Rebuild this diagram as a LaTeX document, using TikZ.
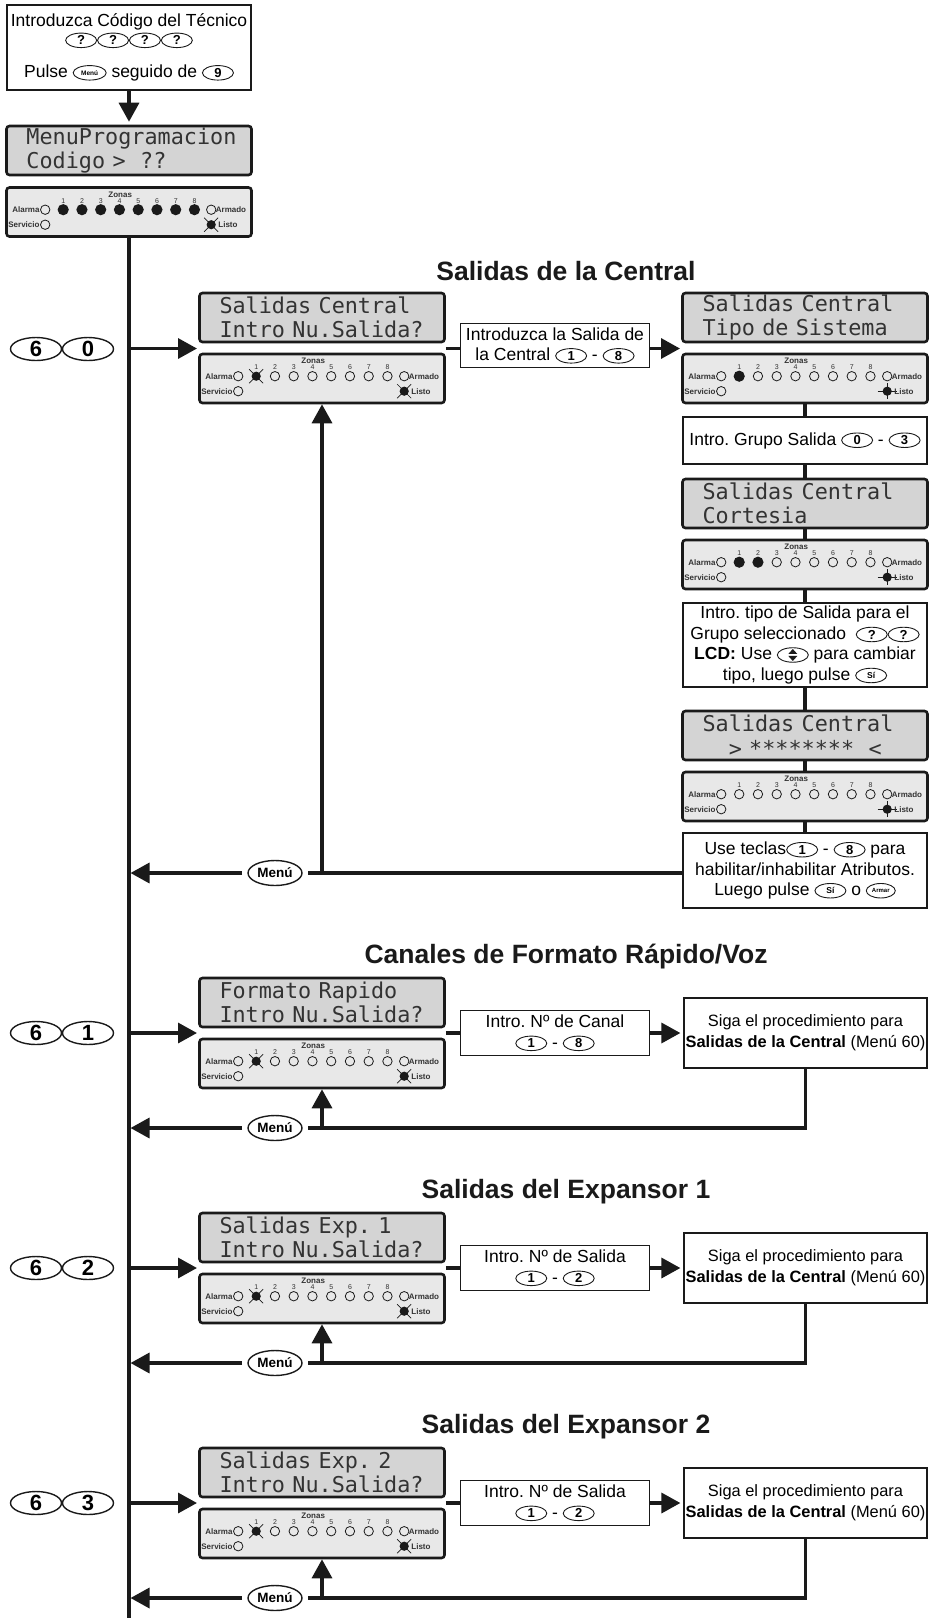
\documentclass[tikz,border=0pt]{standalone}
\usepackage{fontspec}
\setmainfont{Liberation Sans}
\newfontfamily\lcdfont[WordSpace={1,0,0}]{DejaVu Sans Mono}
\usetikzlibrary{shapes.geometric,arrows.meta,calc}

\definecolor{lcdfill}{HTML}{D4D4D4}
\definecolor{kpfill}{HTML}{E8E8E8}
\definecolor{ink}{HTML}{1A1A1A}
\definecolor{kptext}{HTML}{333333}

\tikzset{
  kkey/.style={draw=ink, ellipse, line width=0.9pt, inner sep=0pt, minimum width=31pt, minimum height=14.5pt, font=\fontsize{13}{13}\selectfont\bfseries},
  lcdbox/.style={draw=ink, line width=2.6pt, rounded corners=3pt, fill=lcdfill, minimum height=49pt, inner xsep=20pt, inner ysep=0pt, text width=205pt, align=left, font=\lcdfont\fontsize{21.8}{24.5}\selectfont\frenchspacing, text=kptext},
  kpbox/.style={draw=ink, line width=2.6pt, rounded corners=3pt, fill=kpfill, minimum width=245pt, minimum height=49pt, inner sep=0pt},
  kplab/.style={inner sep=0pt, text=kptext, font=\fontsize{8}{8}\selectfont\bfseries},
  kpnum/.style={inner sep=0pt, text=kptext, font=\fontsize{7}{7}\selectfont},
  txtbox/.style={draw=ink, line width=1.2pt, fill=white, align=center, inner sep=2pt, font=\fontsize{17.5}{20.5}\selectfont},
  sigabox/.style={txtbox, inner xsep=0.5pt, minimum width=243pt, minimum height=70pt, font=\fontsize{16.4}{21}\selectfont},
  title/.style={inner sep=0pt, text=ink, font=\fontsize{26.5}{30}\selectfont\bfseries},
  bigkey/.style={draw=ink, ellipse, line width=1.4pt, minimum width=51pt, minimum height=23pt, inner sep=0pt, font=\fontsize{22}{22}\selectfont\bfseries},
  menukey/.style={draw=ink, ellipse, line width=1.4pt, minimum width=54pt, minimum height=25pt, inner sep=0pt, outer xsep=6pt, font=\fontsize{13.5}{13.5}\selectfont\bfseries},
  line/.style={draw=ink, line width=3.4pt},
  arr/.style={line, -{Triangle[length=19pt,width=20pt]}}
}

\newcommand\keyi[2][]{\tikz[baseline={([yshift=-4.8pt]kq.center)}]\node[kkey,#1](kq){#2};}
\newcommand\kk[1]{\keyi{#1}}
\newcommand\ksi{\keyi[font=\fontsize{8.5}{8.5}\selectfont\bfseries]{Sí}}
\newcommand\karmar{\keyi[font=\fontsize{6}{6}\selectfont\bfseries, minimum width=29pt]{Armar}}
\newcommand\kmenu{\keyi[font=\fontsize{6.5}{6.5}\selectfont\bfseries, minimum width=33pt]{Menú}}
\newcommand\kscroll{\tikz[baseline={([yshift=-4.8pt]kq.center)}]{\node[kkey](kq){};
  \fill[ink] ($(kq.center)+(-4.5pt,1pt)$) -- ($(kq.center)+(4.5pt,1pt)$) -- ($(kq.center)+(0pt,6pt)$) -- cycle;
  \fill[ink] ($(kq.center)+(-4.5pt,-1pt)$) -- ($(kq.center)+(4.5pt,-1pt)$) -- ($(kq.center)+(0pt,-6pt)$) -- cycle;}}

\newcommand\LEDo[2]{\draw[line width=0.8pt, draw=ink] (#1,#2) circle (4.7pt);}
\newcommand\LEDf[2]{\fill[ink] (#1,#2) circle (5.6pt);}
\newcommand\LEDx[2]{\draw[ink, line width=0.7pt] (#1-7,#2-7) -- (#1+7,#2+7) (#1-7,#2+7) -- (#1+7,#2-7);\fill[ink] (#1,#2) circle (4.6pt);}
\newcommand\LEDs[2]{\draw[ink, line width=0.8pt] (#1-9.5,#2) -- (#1+9.5,#2) (#1,#2-8) -- (#1,#2+8);\fill[ink] (#1,#2) circle (4.6pt);}

\newcommand\kpad[5]{%
  \node[kpbox] (#1) at (#2,#3) {};
  \begin{scope}[shift={(#1.north west)}]
    \node[kplab] (#1zn) at (115,8.5) {Zonas};
    \foreach \s [count=\i] in {#4}{%
      \pgfmathsetmacro\xx{58+18.75*(\i-1)}
      \node[kpnum] (#1n\i) at (\xx,14.5) {\i};
      \csname LED\s\endcsname{\xx}{23.5}}
    \LEDo{40}{23.5}
    \node[kplab, anchor=east] (#1al) at (34.5,23.5) {Alarma};
    \LEDo{206}{23.5}
    \node[kplab, anchor=west] (#1ar) at (210.5,23.5) {Armado};
    \LEDo{40}{38.5}
    \node[kplab, anchor=east] (#1sv) at (34.5,38.5) {Servicio};
    \csname LED#5\endcsname{206}{38.5}
    \node[kplab, anchor=west] (#1ls) at (213,38.5) {Listo};
  \end{scope}}

\newcommand\sect[6]{%
  \node[title] (t#1) at (566,#2-76) {#3};
  \node[bigkey] (k#1a) at (36,#2) {6};
  \node[bigkey] (k#1b) at (88,#2) {#4};
  \node[lcdbox] (lcd#1) at (322,#2-30.5) {#5\\Intro Nu.Salida?};
  \kpad{kp#1}{322}{#2+30.5}{x,o,o,o,o,o,o,o}{x}
  \coordinate (in#1) at (197,#2);
  \draw[arr] ($(in#1 -| mend)+(1.5,0)$) -- (in#1);
  \node[txtbox, minimum width=189pt, minimum height=45pt] (b#1) at (555,#2) {#6};
  \draw[line] (lcd#1.south east |- in#1) -- (b#1.west);
  \node[sigabox] (s#1) at (805.5,#2) {Siga el procedimiento para\\\textbf{Salidas de la Central} (Menú 60)};
  \draw[arr] (b#1.east) -- ($(s#1.west)+(-3,0)$);
  \node[menukey] (m#1) at (275,#2+95) {Menú};
  \draw[line] (s#1.south) -- (s#1.south |- m#1) -- (m#1.east);
  \draw[arr] (m#1.west) -- ($(m#1 -| mend)+(1.5,0)$);
  \draw[arr] (kp#1.south |- m#1) -- (kp#1.south);
}

\begin{document}
\frenchspacing
\begin{tikzpicture}[x=1pt,y=-1pt]
\clip (0,0) rectangle (930,1618);
\fill[white] (0,0) rectangle (930,1618);

% ---------- top ----------
\node[txtbox, minimum width=244pt, minimum height=85pt] (top) at (129,47.5)
  {Introduzca Código del Técnico\\[-2pt]\kk{?}\kk{?}\kk{?}\kk{?}\\[12pt]Pulse \kmenu{} seguido de \kk{9}};
\node[lcdbox] (lcd1) at (129,150.5) {MenuProgramacion\\Codigo >~~??};
\kpad{kp1}{129}{212}{f,f,f,f,f,f,f,f}{x}
\draw[arr] (top.south) -- ($(lcd1.north)+(0,-3)$);
\coordinate (mend) at (129,1640);
\draw[line, -{Triangle[length=19pt,width=20pt]}] (kp1.south) -- (mend);

% ---------- section 1 ----------
\node[title] (t1) at (566,271) {Salidas de la Central};
\node[bigkey] (k1a) at (36,349) {6};
\node[bigkey] (k1b) at (88,349) {0};
\node[lcdbox] (lcd2) at (322,317.5) {Salidas Central\\Intro Nu.Salida?};
\kpad{kp2}{322}{378.5}{x,o,o,o,o,o,o,o}{x}
\coordinate (in1) at (197,348.5);
\draw[arr] ($(in1 -| mend)+(1.5,0)$) -- (in1);
\node[txtbox, minimum width=189pt, minimum height=44pt] (b1) at (555,345.5)
  {Introduzca la Salida de\\la Central \kk{1} - \kk{8}};
\draw[line] (lcd2.south east |- in1) -- (in1 -| b1.west);
\node[lcdbox] (lcd3) at (805,317.5) {Salidas Central\\Tipo de Sistema};
\kpad{kp3}{805}{378.5}{f,o,o,o,o,o,o,o}{s}
\coordinate (in3) at (680,348.5);
\draw[arr] (in3 -| b1.east) -- (in3);
\node[txtbox, minimum width=244pt, minimum height=47pt] (bg) at (805,440.5) {Intro. Grupo Salida \kk{0} - \kk{3}};
\node[lcdbox] (lcd4) at (805,503.5) {Salidas Central\\Cortesia};
\kpad{kp4}{805}{564.5}{f,f,o,o,o,o,o,o}{s}
\node[txtbox, minimum width=244pt, minimum height=84pt] (bt) at (805,645)
  {Intro. tipo de Salida para el\\Grupo seleccionado~ \kk{?}\kk{?}\\\textbf{LCD:} Use \kscroll{} para cambiar\\tipo, luego pulse \ksi{}};
\node[lcdbox] (lcd5) at (805,735.5) {Salidas Central\\\phantom{xx}>~********~~<};
\kpad{kp5}{805}{796.5}{o,o,o,o,o,o,o,o}{s}
\node[txtbox, minimum width=244pt, minimum height=75pt] (bu) at (805,870.5)
  {Use teclas\kk{1} - \kk{8} para\\habilitar/inhabilitar Atributos.\\Luego pulse \ksi{} o \karmar{}};
\draw[line] (kp3.south) -- (bg.north);
\draw[line] (bg.south) -- (lcd4.north);
\draw[line] (lcd4.south) -- (kp4.north);
\draw[line] (kp4.south) -- (bt.north);
\draw[line] (bt.south) -- (lcd5.north);
\draw[line] (lcd5.south) -- (kp5.north);
\draw[line] (kp5.south) -- (bu.north);
\node[menukey] (m1) at (275,873) {Menú};
\draw[line] (bu.west |- m1) -- (m1.east);
\draw[arr] (m1.west) -- ($(m1 -| mend)+(1.5,0)$);
\draw[arr] (kp2.south |- m1) -- (kp2.south);

% ---------- sections 2-4 ----------
\sect{2}{1033}{Canales de Formato Rápido/Voz}{1}{Formato Rapido}{Intro. Nº de Canal\\\kk{1} - \kk{8}}
\sect{3}{1268}{Salidas del Expansor 1}{2}{Salidas Exp. 1}{Intro. Nº de Salida\\\kk{1} - \kk{2}}
\sect{4}{1503}{Salidas del Expansor 2}{3}{Salidas Exp. 2}{Intro. Nº de Salida\\\kk{1} - \kk{2}}
\end{tikzpicture}
\end{document}
